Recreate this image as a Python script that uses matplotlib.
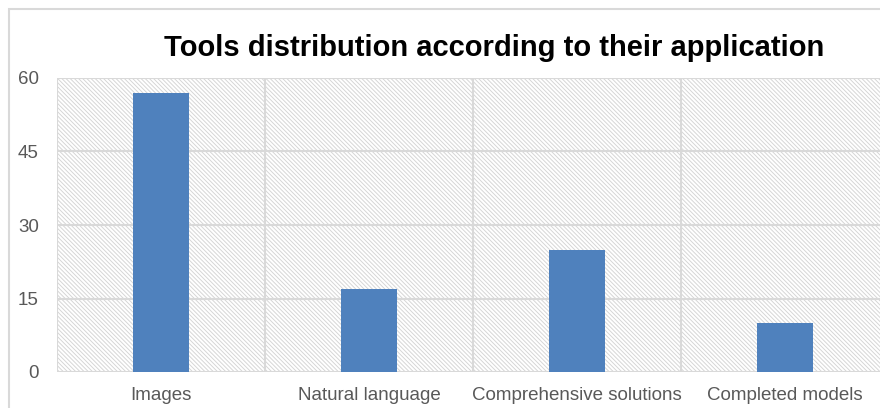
import matplotlib.pyplot as plt
from matplotlib.patches import Rectangle

# Chart data
categories = ["Images", "Natural language", "Comprehensive solutions", "Completed models"]
counts = [57, 17, 25, 10]
y_ticks = [0, 15, 30, 45, 60]

plt.rcParams['font.family'] = ['Liberation Sans', 'DejaVu Sans']
plt.rcParams['hatch.linewidth'] = 0.7

W, H = 880, 408
fig = plt.figure(figsize=(W / 100, H / 100), dpi=100)

# outer chart border (cropped on the right and bottom)
fig.patches.append(Rectangle((9 / W, -0.1), 1.2, 1 - 9 / H + 0.1, transform=fig.transFigure,
                             facecolor='white', edgecolor='#d9d9d9', linewidth=1.5, zorder=-5))

# plot area in pixels: left 57, right 889 (beyond the crop), top 78, bottom 372
ax = fig.add_axes([57 / W, (H - 372) / H, 832 / W, 294 / H])
ax.set_zorder(2)
ax.patch.set_visible(False)

# hatched plot-area background
ax.add_patch(Rectangle((0, 0), 1, 1, transform=ax.transAxes, facecolor='white',
                       edgecolor='#d6d6d6', linewidth=0, hatch='\\' * 8, zorder=0))

x = range(len(categories))
ax.bar(x, counts, width=0.27, color='#4f81bd', zorder=3)

ax.set_xlim(-0.5, len(categories) - 0.5)
ax.set_ylim(0, 60)
ax.set_yticks(y_ticks)
ax.set_xticks(list(x))
ax.set_xticklabels(categories)

# vertical gridlines between categories, horizontal at the ticks
for b in [i - 0.5 for i in range(len(categories) + 1)]:
    ax.axvline(b, color='#d9d9d9', linewidth=1.5, zorder=1)
for t in y_ticks:
    ax.axhline(t, color='#d9d9d9', linewidth=1.5, zorder=1)

for s in ax.spines.values():
    s.set_visible(False)
ax.tick_params(axis='both', length=0, labelsize=13.5, labelcolor='#595959')
ax.tick_params(axis='y', pad=13)
ax.tick_params(axis='x', pad=11)

fig.text(494 / W, (H - 56) / H, "Tools distribution according to their application",
         ha='center', va='baseline', fontsize=21, fontweight='bold', color='black')

fig.savefig('out.png', dpi=100)
